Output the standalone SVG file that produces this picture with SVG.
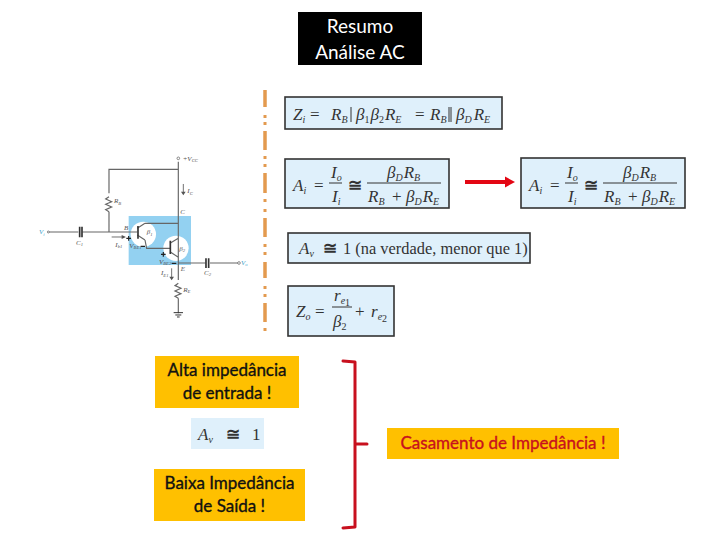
<svg xmlns="http://www.w3.org/2000/svg" width="720" height="540" viewBox="0 0 720 540">
<style>
.cal{font-family:Lato,"Open Sans","Liberation Sans",sans-serif;font-size:17px;text-anchor:middle;fill:#111;stroke:#111;stroke-width:.35}
.ttl{font-size:19px;fill:#fff;stroke:none}
.box{fill:#dff0fb;stroke:#333;stroke-width:1.6}
.y{fill:#ffc000}
.m{font-family:"Liberation Serif",serif;font-size:17px;fill:#333}
.i{font-style:italic}
.s{font-size:10px;font-style:italic}
.n{font-size:10px;font-style:normal}
.cg{font-weight:700}
.bar{stroke:#333;stroke-width:1;fill:none}
.w{fill:none;stroke:#666;stroke-width:3.5}
.ct{font-family:"Liberation Serif",serif;font-size:21px;font-style:italic;fill:#555}
.red{fill:none;stroke:#c8101e;stroke-width:3;stroke-linecap:round;stroke-linejoin:round}
</style>
<defs>
<g id="ai">
<text class="m i" x="293" y="191">A<tspan class="s" dy="3">i</tspan></text>
<text class="m" x="314" y="191">=</text>
<text class="m i" x="331" y="178">I<tspan class="s" dy="3">o</tspan></text>
<path class="bar" d="M329 183H342M367 183H441"/>
<text class="m i" x="332" y="202">I<tspan class="s" dy="3">i</tspan></text>
<text class="m cg" x="348" y="191">≅</text>
<text class="m i" x="387" y="178">β<tspan class="s" dy="3">D</tspan><tspan dx="1" dy="-3">R</tspan><tspan class="s" dy="3">B</tspan></text>
<text class="m i" x="368" y="202">R<tspan class="s" dy="3">B</tspan></text>
<text class="m" x="392" y="202">+</text>
<text class="m i" x="406" y="202">β<tspan class="s" dy="3">D</tspan><tspan dx="1" dy="-3">R</tspan><tspan class="s" dy="3">E</tspan></text>
</g>
</defs>

<g id="title">
<rect x="298" y="12" width="124" height="53" fill="#000"/>
<text class="cal ttl" x="360" y="33">Resumo</text>
<text class="cal ttl" x="360" y="59">Análise AC</text>
</g>

<g id="divider">
<path d="M265 90V107M265 131V150M265 173V193M265 218V237M265 262V278M265 303V322" stroke="#e39a4f" stroke-width="3.5" fill="none"/>
<path d="M265 115v3M265 122v3M265 156v3M265 164v3M265 199v3M265 209v3M265 244v3M265 252v3M265 286v3M265 294v3M265 328v3" stroke="#e39a4f" stroke-width="3" fill="none"/>
</g>

<g id="circuit" transform="translate(30 140) scale(.3333)">
<rect x="296" y="228" width="187" height="147" fill="#93d1f1"/>
<circle cx="340" cy="283" r="38" fill="#fff"/>
<circle cx="438" cy="325" r="38" fill="#fff"/>
<path class="w" d="M55 276H145M157 276H322M237 276V215M237 160V88H445V65M445 88V380M345 250H445M345 300L350 325H420M345 300L322 285M322 265L345 250M420 310L445 295M420 335L445 352M445 352V380M445 380V420M445 475V520M445 369H527M540 369H625"/>
<path class="w" d="M237 215l-10 -6 18 -8 -18 -8 18 -8 -18 -8 10 -7M445 475l-10 -6 18 -8 -18 -8 18 -8 -18 -8 10 -7"/>
<path d="M149 260V292M156 260V292M528 355V384M536 355V384M324 258V296M421 302V342" stroke="#333" stroke-width="5" fill="none"/>
<path d="M431 518H459M436 525H454M441 531H449" stroke="#333" stroke-width="3" fill="none"/>
<circle cx="55" cy="276" r="3" fill="#fff" stroke="#555" stroke-width="2"/>
<circle cx="445" cy="55" r="4" fill="#fff" stroke="#555" stroke-width="2"/>
<circle cx="627" cy="369" r="4" fill="#fff" stroke="#555" stroke-width="2"/>
<path d="M460 132V160M425 385V415M245 291H282" stroke="#555" stroke-width="2.5" fill="none"/>
<path d="M453 155L460 166L467 155ZM418 410L425 421L432 410ZM275 285L288 291L275 297Z" fill="#555"/>
<path d="M296 288V302M289 295H303M400 336V350M393 343H407M332 319H345M425 370H439" stroke="#222" stroke-width="3.5" fill="none"/>
<text class="ct" x="458" y="62">+V<tspan font-size="14" dy="4">CC</tspan></text>
<text class="ct" x="472" y="160">I<tspan font-size="14" dy="4">C</tspan></text>
<text class="ct" x="252" y="190">R<tspan font-size="14" dy="4">B</tspan></text>
<text class="ct" x="451" y="222">C</text>
<text class="ct" x="282" y="270">B</text>
<text class="ct" x="27" y="283" style="fill:#3d9fc9">V<tspan font-size="14" dy="4">i</tspan></text>
<text class="ct" x="138" y="314">C<tspan font-size="14" dy="4">1</tspan></text>
<text class="ct" x="256" y="320">I<tspan font-size="14" dy="4">b1</tspan></text>
<text class="ct" x="298" y="324">V<tspan font-size="14" dy="4">BE1</tspan></text>
<text class="ct" x="350" y="283">β<tspan font-size="14" dy="4">1</tspan></text>
<text class="ct" x="448" y="332">β<tspan font-size="14" dy="4">2</tspan></text>
<text class="ct" x="387" y="372">V<tspan font-size="14" dy="4">BE2</tspan></text>
<text class="ct" x="452" y="392">E</text>
<text class="ct" x="393" y="406">I<tspan font-size="14" dy="4">E1</tspan></text>
<text class="ct" x="522" y="405">C<tspan font-size="14" dy="4">2</tspan></text>
<text class="ct" x="633" y="374" style="fill:#3d9fc9">V<tspan font-size="14" dy="4">o</tspan></text>
<text class="ct" x="460" y="455">R<tspan font-size="14" dy="4">E</tspan></text>
</g>

<g id="eq-zi">
<rect class="box" x="285" y="97" width="217" height="32"/>
<text class="m i" x="293" y="120">Z<tspan class="s" dy="3">i</tspan></text>
<text class="m" x="310" y="120">=</text>
<text class="m i" x="331" y="120">R<tspan class="s" dy="3">B</tspan></text>
<path class="bar" d="M351 107V122M449 107V122M451 107V122"/>
<text class="m i" x="356" y="120">β<tspan class="n" dy="3">1</tspan><tspan dx="1" dy="-3">β</tspan><tspan class="n" dy="3">2</tspan><tspan dx="1" dy="-3">R</tspan><tspan class="s" dy="3">E</tspan></text>
<text class="m" x="415" y="120">=</text>
<text class="m i" x="430" y="120">R<tspan class="s" dy="3">B</tspan></text>
<text class="m i" x="456" y="120">β<tspan class="s" dy="3">D</tspan><tspan dx="2" dy="-3">R</tspan><tspan class="s" dy="3">E</tspan></text>
</g>

<g id="eq-ai">
<rect class="box" x="285" y="159" width="164" height="49"/>
<use href="#ai"/>
</g>

<g id="eq-ai-copy">
<rect class="box" x="521" y="158" width="164" height="50"/>
<use href="#ai" x="236"/>
</g>

<g id="eq-av">
<rect class="box" x="288" y="233" width="242" height="30"/>
<text class="m i" x="299" y="254">A<tspan class="s" dy="3">v</tspan></text>
<text class="m cg" x="323" y="254">≅</text>
<text class="m" x="343" y="254" font-size="16.4" style="font-size:16.4px">1 (na verdade, menor que 1)</text>
</g>

<g id="eq-zo">
<rect class="box" x="288" y="286" width="106" height="50"/>
<text class="m i" x="296" y="317">Z<tspan class="s" dy="3">o</tspan></text>
<text class="m" x="315" y="317">=</text>
<text class="m i" x="334" y="301">r<tspan class="s" dy="3">e</tspan><tspan class="n" font-size="8" dy="2">1</tspan></text>
<path class="bar" d="M332 307H352"/>
<text class="m i" x="333" y="327">β<tspan class="n" dy="3">2</tspan></text>
<text class="m" x="355" y="317">+</text>
<text class="m i" x="371" y="317">r<tspan class="s" dy="3">e</tspan><tspan class="n" dy="2">2</tspan></text>
</g>

<g id="connectors">
<path d="M465 182H507" stroke="#e30613" stroke-width="4" fill="none"/>
<path d="M505 176.500L515 182L505 187.500Z" fill="#e30613"/>
<path class="red" d="M343 361L355 362V527L343 528M355 444H367"/>
</g>

<g id="alta">
<rect class="y" x="155" y="356" width="144" height="52"/>
<text class="cal" x="227" y="376">Alta impedância</text>
<text class="cal" x="227" y="399">de entrada !</text>
</g>

<g id="av-one">
<rect x="191" y="418" width="73" height="31" fill="#dff0fb"/>
<text class="m i" x="198" y="440">A<tspan class="s" dy="3">v</tspan></text>
<text class="m cg" x="226" y="440">≅</text>
<text class="m" x="252" y="440">1</text>
</g>

<g id="baixa">
<rect class="y" x="154" y="469" width="151" height="52"/>
<text class="cal" x="229.500" y="489">Baixa Impedância</text>
<text class="cal" x="229.500" y="512">de Saída !</text>
</g>

<g id="casamento">
<rect class="y" x="387" y="428" width="232" height="31"/>
<text class="cal" x="503" y="449" style="fill:#c8101e;stroke:#c8101e">Casamento de Impedância !</text>
</g>
</svg>
